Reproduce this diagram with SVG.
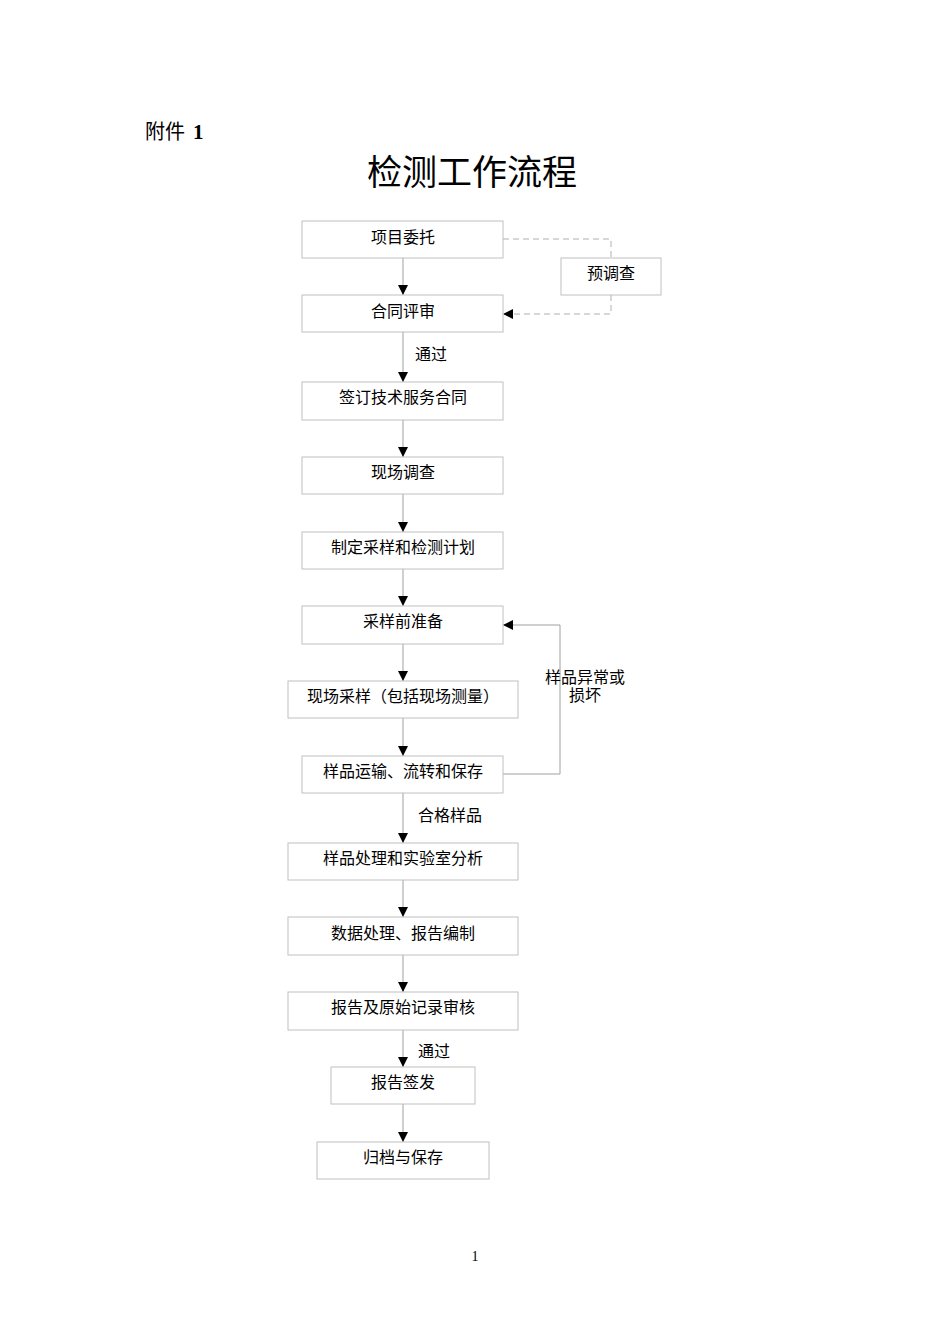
<svg xmlns="http://www.w3.org/2000/svg" width="950" height="1344" viewBox="0 0 950 1344">
<style>
.box{fill:#fff;stroke:#c0c0c0;stroke-width:1}
.t{font-family:"Liberation Sans","Noto Sans CJK SC",sans-serif;font-size:16px;fill:#000;text-anchor:middle}
.ln{fill:none;stroke:#a0a0a0;stroke-width:1}
.dash{fill:none;stroke:#b0b0b0;stroke-width:1;stroke-dasharray:6,4}
</style>
<defs>
<marker id="ah" viewBox="0 0 10 10" refX="10" refY="5" markerWidth="10" markerHeight="10" markerUnits="userSpaceOnUse" orient="auto">
<path d="M0,0 L10,5 L0,10 Z" fill="#000"/>
</marker>
</defs>
<rect width="950" height="1344" fill="#fff"/>
<text x="145" y="139" style="font-family:'Noto Sans CJK SC',sans-serif;font-size:20px">附件<tspan x="193" style="font-family:'Liberation Serif',serif;font-weight:bold;font-size:21px">1</tspan></text>
<text x="472" y="185" style="font-family:'Noto Sans CJK SC',sans-serif;font-size:35px;text-anchor:middle">检测工作流程</text>
<text x="475" y="1261" style="font-family:'Liberation Serif',serif;font-size:14px;text-anchor:middle">1</text>
<g id="connectors">
<line class="ln" x1="403" y1="258" x2="403" y2="295" marker-end="url(#ah)"/>
<line class="ln" x1="403" y1="332" x2="403" y2="382" marker-end="url(#ah)"/>
<line class="ln" x1="403" y1="420" x2="403" y2="457" marker-end="url(#ah)"/>
<line class="ln" x1="403" y1="494" x2="403" y2="532" marker-end="url(#ah)"/>
<line class="ln" x1="403" y1="569" x2="403" y2="606" marker-end="url(#ah)"/>
<line class="ln" x1="403" y1="644" x2="403" y2="681" marker-end="url(#ah)"/>
<line class="ln" x1="403" y1="718" x2="403" y2="756" marker-end="url(#ah)"/>
<line class="ln" x1="403" y1="793" x2="403" y2="843" marker-end="url(#ah)"/>
<line class="ln" x1="403" y1="880" x2="403" y2="917" marker-end="url(#ah)"/>
<line class="ln" x1="403" y1="955" x2="403" y2="992" marker-end="url(#ah)"/>
<line class="ln" x1="403" y1="1030" x2="403" y2="1067" marker-end="url(#ah)"/>
<line class="ln" x1="403" y1="1104" x2="403" y2="1142" marker-end="url(#ah)"/>
<polyline class="dash" points="503,239 611,239 611,258"/>
<polyline class="dash" points="611,295 611,314 503,314" marker-end="url(#ah)"/>
<polyline class="ln" points="503,774 560,774 560,625 503,625" marker-end="url(#ah)"/>
<text class="t" x="431" y="360">通过</text>
<text class="t" x="450" y="821">合格样品</text>
<text class="t" x="434" y="1057">通过</text>
<text class="t" x="585" y="683">样品异常或</text>
<text class="t" x="585" y="701">损坏</text>
</g>
<g id="n1"><rect class="box" x="302" y="221" width="201" height="37"/><text class="t" x="403" y="243">项目委托</text></g>
<g id="n2"><rect class="box" x="302" y="295" width="201" height="37"/><text class="t" x="403" y="317">合同评审</text></g>
<g id="n_pre"><rect class="box" x="561" y="258" width="100" height="37"/><text class="t" x="611" y="279">预调查</text></g>
<g id="n3"><rect class="box" x="302" y="382" width="201" height="38"/><text class="t" x="403" y="403">签订技术服务合同</text></g>
<g id="n4"><rect class="box" x="302" y="457" width="201" height="37"/><text class="t" x="403" y="478">现场调查</text></g>
<g id="n5"><rect class="box" x="302" y="532" width="201" height="37"/><text class="t" x="403" y="553">制定采样和检测计划</text></g>
<g id="n6"><rect class="box" x="302" y="606" width="201" height="38"/><text class="t" x="403" y="627">采样前准备</text></g>
<g id="n7"><rect class="box" x="288" y="681" width="230" height="37"/><text class="t" x="403" y="702">现场采样（包括现场测量）</text></g>
<g id="n8"><rect class="box" x="302" y="756" width="201" height="37"/><text class="t" x="403" y="777">样品运输、流转和保存</text></g>
<g id="n9"><rect class="box" x="288" y="843" width="230" height="37"/><text class="t" x="403" y="864">样品处理和实验室分析</text></g>
<g id="n10"><rect class="box" x="288" y="917" width="230" height="38"/><text class="t" x="403" y="939">数据处理、报告编制</text></g>
<g id="n11"><rect class="box" x="288" y="992" width="230" height="38"/><text class="t" x="403" y="1013">报告及原始记录审核</text></g>
<g id="n12"><rect class="box" x="331" y="1067" width="144" height="37"/><text class="t" x="403" y="1088">报告签发</text></g>
<g id="n13"><rect class="box" x="317" y="1142" width="172" height="37"/><text class="t" x="403" y="1163">归档与保存</text></g>
</svg>
